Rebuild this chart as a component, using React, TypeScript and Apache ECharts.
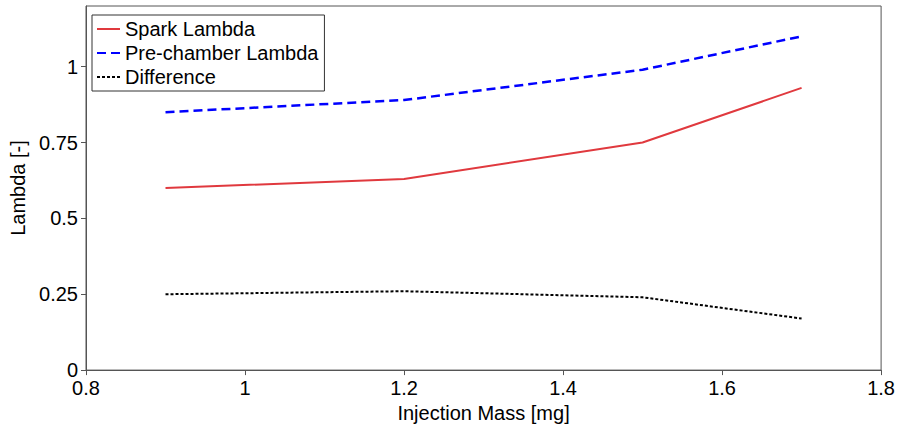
import React, { useEffect, useRef } from "react";
import * as echarts from "echarts";

const injectionMass = [0.9, 1.2, 1.5, 1.7];
const sparkLambda = [0.6, 0.63, 0.75, 0.93];
const preChamberLambda = [0.85, 0.89, 0.99, 1.1];
const difference = [0.25, 0.26, 0.24, 0.17];

const FONT = "'Liberation Sans', Arial, sans-serif";
const FS = 20;

export default function App() {
  const ref = useRef<HTMLDivElement>(null);
  useEffect(() => {
    document.body.style.margin = "0";
    const chart = echarts.init(ref.current!, null, { renderer: "svg" });
    const pair = (ys: number[]) => injectionMass.map((x, i) => [x, ys[i]]);
    const axisCommon = {
      axisLine: { show: true, lineStyle: { color: "#555", width: 1 } },
      axisTick: { show: true, length: 5, lineStyle: { color: "#555" } },
      splitLine: { show: false },
      axisLabel: { color: "#000", fontSize: FS, fontFamily: FONT },
      nameTextStyle: { color: "#000", fontSize: FS, fontFamily: FONT },
    };
    chart.setOption({
      animation: false,
      backgroundColor: "#fff",
      grid: {
        left: 84,
        top: 6,
        right: 14,
        bottom: 55,
        show: true,
        borderColor: "#555",
        borderWidth: 1,
      },
      legend: {
        orient: "vertical",
        left: 92,
        top: 15,
        padding: [4, 6, 4, 4],
        itemGap: 4,
        itemWidth: 23,
        itemHeight: 20,
        borderColor: "#333",
        borderWidth: 1,
        backgroundColor: "#fff",
        itemStyle: { color: "rgba(0,0,0,0)", borderColor: "rgba(0,0,0,0)", borderWidth: 0 },
        textStyle: { color: "#000", fontSize: FS, fontFamily: FONT },
        data: ["Spark Lambda", "Pre-chamber Lambda", "Difference"],
      },
      xAxis: {
        type: "value",
        min: 0.8,
        max: 1.8,
        interval: 0.2,
        name: "Injection Mass [mg]",
        nameLocation: "middle",
        nameGap: 32,
        ...axisCommon,
        axisLabel: {
          ...axisCommon.axisLabel,
          margin: 8,
          formatter: (v: number) => String(Math.round(v * 10) / 10),
        },
      },
      yAxis: {
        type: "value",
        min: 0,
        max: 1.2,
        interval: 0.25,
        name: "Lambda [-]",
        nameLocation: "middle",
        nameGap: 58,
        ...axisCommon,
        axisLabel: {
          ...axisCommon.axisLabel,
          margin: 8,
          showMaxLabel: false,
          formatter: (v: number) => (v > 1.1 ? "" : String(v)),
        },
      },
      series: [
        {
          name: "Spark Lambda",
          type: "line",
          data: pair(sparkLambda),
          showSymbol: false,
          symbol: "none",
          lineStyle: { color: "#e0393e", width: 2, type: "solid" },
          itemStyle: { color: "#e0393e" },
        },
        {
          name: "Pre-chamber Lambda",
          type: "line",
          data: pair(preChamberLambda),
          showSymbol: false,
          symbol: "none",
          lineStyle: { color: "#0000ff", width: 2.5, type: [9, 5] },
          itemStyle: { color: "#0000ff" },
        },
        {
          name: "Difference",
          type: "line",
          data: pair(difference),
          showSymbol: false,
          symbol: "none",
          lineStyle: { color: "#000", width: 2, type: [3, 2] },
          itemStyle: { color: "#000" },
        },
      ],
    });
    return () => chart.dispose();
  }, []);
  return (
    <div
      ref={ref}
      style={{ position: "fixed", left: 0, top: 0, width: 898, height: 428 }}
    />
  );
}
